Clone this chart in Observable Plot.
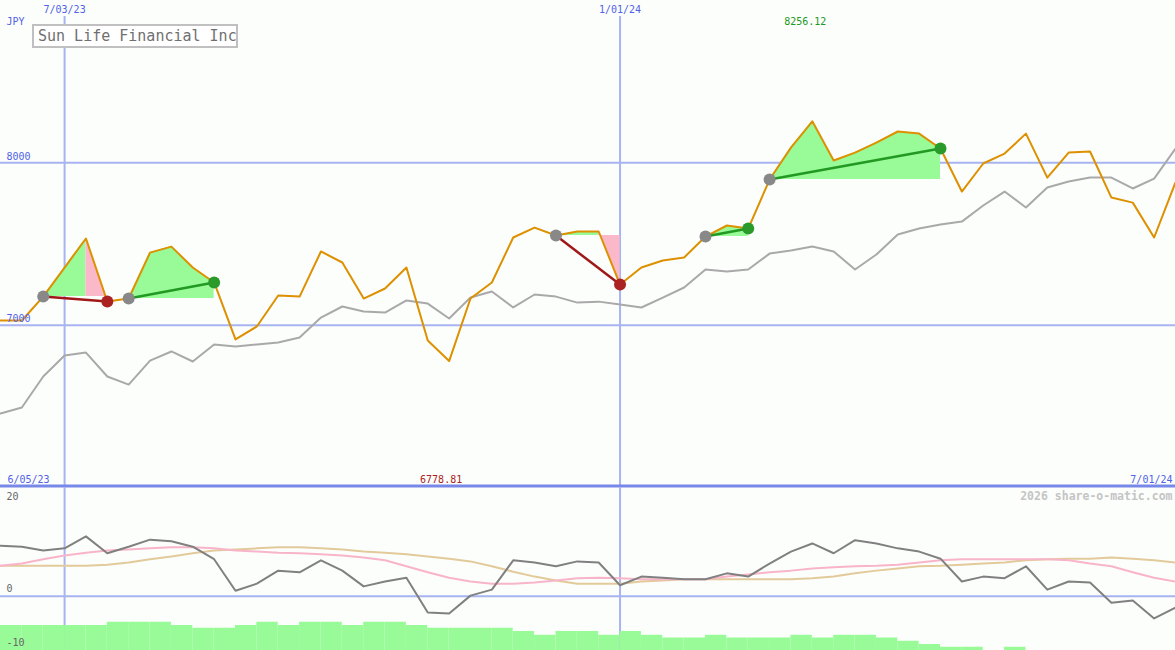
<!DOCTYPE html>
<html><head><meta charset="utf-8">
<script src="https://cdn.jsdelivr.net/npm/d3@7"></script>
<script src="https://cdn.jsdelivr.net/npm/@observablehq/plot@0.6"></script>
<style>
html,body{margin:0;padding:0;background:#fcfefc;}
#chart{position:relative;width:1175px;height:650px;overflow:hidden;background:#fcfefc;}
#chart svg{display:block;overflow:visible;}
#title{position:absolute;z-index:2;left:32px;top:24px;width:198px;height:20px;border:2px solid #c0c0c0;background:#fff;font:15px "DejaVu Sans Mono",monospace;color:#707070;line-height:21px;padding-left:4px;white-space:nowrap;overflow:hidden;}
</style></head><body>
<div id="chart"><div id="title">Sun Life Financial Inc</div></div>
<script>
// ---- data ----
const firstWeek = "2023-06-12";
const lastWeek = "2024-07-01";
const startLabel = "6/05/23";
const endLabel = "7/01/24";
const currency = "JPY";
const watermark = "2026 share-o-matic.com";
const gridDates = ["2023-07-03", "2024-01-01"];
const gridLabels = ["7/03/23", "1/01/24"];
const priceTicks = [7000, 8000];
const lowerTicks = [20, 0, -10];

const price = [7029,7029,7176,7355,7534,7146,7164,7447,7484,7355,
  7263,6912,6992,7183,7176,7454,7386,7164,7226,7355,
  6905,6778.81,7164,7263,7540,7601,7552,7577,7577,7250,
  7355,7398,7417,7546,7614,7595,7897,8094,8256.12,8014,
  8063,8125,8193,8180,8088,7823,7996,8057,8180,7909,
  8063,8070,7786,7755,7540,7879];
const benchmark = [6456,6493,6684,6813,6831,6684,6634,6782,6838,6776,
  6881,6868,6881,6893,6924,7047,7115,7084,7078,7152,
  7133,7041,7170,7207,7109,7189,7176,7139,7145,7127,
  7109,7170,7232,7343,7330,7343,7441,7460,7484,7454,
  7343,7435,7558,7595,7620,7638,7737,7823,7725,7848,
  7885,7909,7909,7842,7903,8088];
const momentum = [9.3,9.1,8.4,8.8,11.0,7.9,9.1,10.4,10.1,9.1,
  6.8,1.0,2.3,4.7,4.4,6.6,4.7,1.8,2.7,3.4,
  -3.0,-3.2,0.1,1.2,6.6,6.2,5.5,6.4,6.2,2.0,
  3.6,3.4,3.1,3.1,4.2,3.6,6.0,8.2,9.7,7.9,
  10.3,9.7,8.8,8.2,6.9,2.7,3.6,3.3,5.5,1.2,
  2.7,2.5,-1.2,-0.8,-4.1,-2.1];
const avgPink = [5.6,6.0,6.8,7.5,8.0,8.4,8.6,8.8,9.0,9.0,
  8.8,8.4,8.2,8.0,7.9,7.7,7.5,7.1,6.6,5.5,
  4.4,3.4,2.7,2.3,2.3,2.5,2.9,3.3,3.4,3.3,
  3.1,3.1,3.1,3.1,3.6,4.0,4.4,4.7,5.1,5.3,
  5.5,5.6,5.8,6.2,6.6,6.8,6.8,6.8,6.8,6.8,
  6.6,6.0,5.5,4.4,3.4,2.7];
const avgTan = [5.6,5.6,5.6,5.6,5.6,5.8,6.2,6.8,7.3,7.9,
  8.4,8.6,8.8,9.0,9.0,8.8,8.6,8.2,8.0,7.7,
  7.3,6.9,6.4,5.5,4.5,3.6,2.9,2.3,2.3,2.3,
  2.7,2.9,3.1,3.1,3.1,3.1,3.1,3.1,3.3,3.6,
  4.2,4.7,5.1,5.5,5.6,5.8,6.0,6.2,6.6,6.8,
  6.9,6.9,7.1,6.9,6.6,6.2];
const barLevel = [-5.4,-5.4,-5.4,-5.4,-5.4,-4.8,-4.8,-4.8,-5.4,-5.9,
  -5.9,-5.4,-4.8,-5.4,-4.8,-4.8,-5.4,-4.8,-4.8,-5.4,
  -5.9,-5.9,-5.9,-5.9,-6.5,-7.2,-6.5,-6.5,-7.2,-6.5,
  -7.2,-7.7,-7.7,-7.2,-7.7,-7.7,-7.7,-7.2,-7.7,-7.2,
  -7.2,-7.7,-8.3,-8.9,-9.4,-9.4,null,-9.4,null,null,
  null,null,null,null,null];
const tradeStart = [2, 6, 26, 33, 36];
const tradeEnd = [5, 10, 29, 35, 44];

// ---- derived tables ----
const t0 = new Date(firstWeek + "T00:00:00Z");
const dates = price.map((_, i) => d3.utcDay.offset(t0, 7 * i));
const rows = price.map((p, i) => ({date: dates[i], price: p, bench: benchmark[i],
  mom: momentum[i], pink: avgPink[i], tan: avgTan[i]}));
const bars = barLevel.map((v, i) => ({d1: dates[i], d2: dates[i + 1], base: -10, v}))
  .filter(d => d.v != null);
const trades = tradeStart.map((s, k) => {
  const e = tradeEnd[k];
  let pk = s;
  for (let i = s; i <= e; i++) if (price[i] >= price[pk]) pk = i;
  const win = price[e] > price[s];
  return {k, s, e, pk: win ? e : pk, win, d1: dates[s], p1: price[s], d2: dates[e], p2: price[e]};
});
const greenArea = [], pinkArea = [];
for (const t of trades) {
  for (let i = t.s; i <= t.pk; i++) greenArea.push({k: t.k, date: dates[i], base: t.p1, v: price[i]});
  if (!t.win) for (let i = t.pk; i <= t.e; i++) pinkArea.push({k: t.k, date: dates[i], base: t.p1, v: price[i]});
}
const iMax = d3.maxIndex(price), iMin = d3.minIndex(price);

const blue = "#5262e8", grid = "#a8b4f0", mono = "DejaVu Sans Mono";
const X = {type: "utc", domain: [t0, new Date(lastWeek + "T00:00:00Z")], axis: null};
const txt = {fontFamily: mono, fontSize: 10, lineAnchor: "middle"};

const upper = Plot.plot({
  width: 1175, height: 487, margin: 0,
  x: X, y: {domain: [6000, 9000], axis: null},
  style: {background: "transparent", overflow: "visible"},
  marks: [
    Plot.ruleY(priceTicks, {stroke: grid, strokeWidth: 2}),
    Plot.ruleX(gridDates, {x: d => new Date(d + "T00:00:00Z"), stroke: grid, strokeWidth: 2, insetTop: 16}),
    Plot.areaY(greenArea, {x: "date", y1: "base", y2: "v", z: "k", fill: "#98fb98", curve: "linear"}),
    Plot.areaY(pinkArea, {x: "date", y1: "base", y2: "v", z: "k", fill: "#fbb8c8", curve: "linear"}),
    Plot.line(rows, {x: "date", y: "bench", stroke: "#a9a9a9", strokeWidth: 2}),
    Plot.line(rows, {x: "date", y: "price", stroke: "#dd9000", strokeWidth: 2}),
    Plot.link(trades.filter(t => t.win), {x1: "d1", y1: "p1", x2: "d2", y2: "p2", stroke: "#229922", strokeWidth: 2.5}),
    Plot.link(trades.filter(t => !t.win), {x1: "d1", y1: "p1", x2: "d2", y2: "p2", stroke: "#a01818", strokeWidth: 2.5}),
    Plot.dot(trades, {x: "d1", y: "p1", r: 6, fill: "#888888"}),
    Plot.dot(trades.filter(t => t.win), {x: "d2", y: "p2", r: 6, fill: "#2a9a2a"}),
    Plot.dot(trades.filter(t => !t.win), {x: "d2", y: "p2", r: 6, fill: "#aa2222"}),
    Plot.ruleY([6000], {stroke: "#7888e8", strokeWidth: 3, dy: -1.5}),
    Plot.text(priceTicks, {y: d => d, text: d => String(d), frameAnchor: "left", textAnchor: "start", dx: 6, dy: -6, fill: blue, ...txt}),
    Plot.text(gridDates, {x: d => new Date(d + "T00:00:00Z"), text: (d, i) => gridLabels[i], frameAnchor: "top", dy: 9, fill: blue, ...txt}),
    Plot.text([currency], {text: d => d, frameAnchor: "top-left", textAnchor: "start", dx: 6, dy: 21, fill: blue, ...txt}),
    Plot.text([startLabel], {text: d => d, frameAnchor: "bottom-left", textAnchor: "start", dx: 7, dy: -8, fill: blue, ...txt}),
    Plot.text([endLabel], {text: d => d, frameAnchor: "bottom-right", textAnchor: "end", dx: -3, dy: -8, fill: blue, ...txt}),
    Plot.text([iMax], {x: i => dates[i], text: i => price[i].toFixed(2), frameAnchor: "top", dx: -7, dy: 21, fill: "#229922", ...txt}),
    Plot.text([iMin], {x: i => dates[i], text: i => price[i].toFixed(2), frameAnchor: "bottom", dx: -8, dy: -8, fill: "#aa2222", ...txt})
  ]
});

const lower = Plot.plot({
  width: 1175, height: 163, margin: 0,
  x: X, y: {domain: [-10, 20], axis: null},
  style: {background: "transparent", overflow: "visible"},
  marks: [
    Plot.ruleX(gridDates, {x: d => new Date(d + "T00:00:00Z"), stroke: grid, strokeWidth: 2}),
    Plot.ruleY([0], {stroke: grid, strokeWidth: 2}),
    Plot.rect(bars, {x1: "d1", x2: "d2", y1: "base", y2: "v", fill: "#98fb98"}),
    Plot.line(rows, {x: "date", y: "tan", stroke: "#e2ca9a", strokeWidth: 2}),
    Plot.line(rows, {x: "date", y: "pink", stroke: "#f8b4c8", strokeWidth: 2}),
    Plot.line(rows, {x: "date", y: "mom", stroke: "#808080", strokeWidth: 2}),
    Plot.text([lowerTicks[0]], {text: d => String(d), frameAnchor: "top-left", textAnchor: "start", dx: 6, dy: 9, fill: "#666", ...txt}),
    Plot.text([lowerTicks[1]], {y: d => d, text: d => String(d), frameAnchor: "left", textAnchor: "start", dx: 6, dy: -7, fill: "#666", ...txt}),
    Plot.text([lowerTicks[2]], {text: d => String(d), frameAnchor: "bottom-left", textAnchor: "start", dx: 6, dy: -8, fill: "#666", ...txt}),
    Plot.text([watermark], {text: d => d, frameAnchor: "top-right", textAnchor: "end", dx: -3, dy: 9, fill: "#c4c4c4", fontFamily: mono, fontSize: 11.5, fontWeight: "bold", lineAnchor: "middle"})
  ]
});

const chart = document.getElementById("chart");
chart.appendChild(upper);
chart.appendChild(lower);
</script>
</body></html>
